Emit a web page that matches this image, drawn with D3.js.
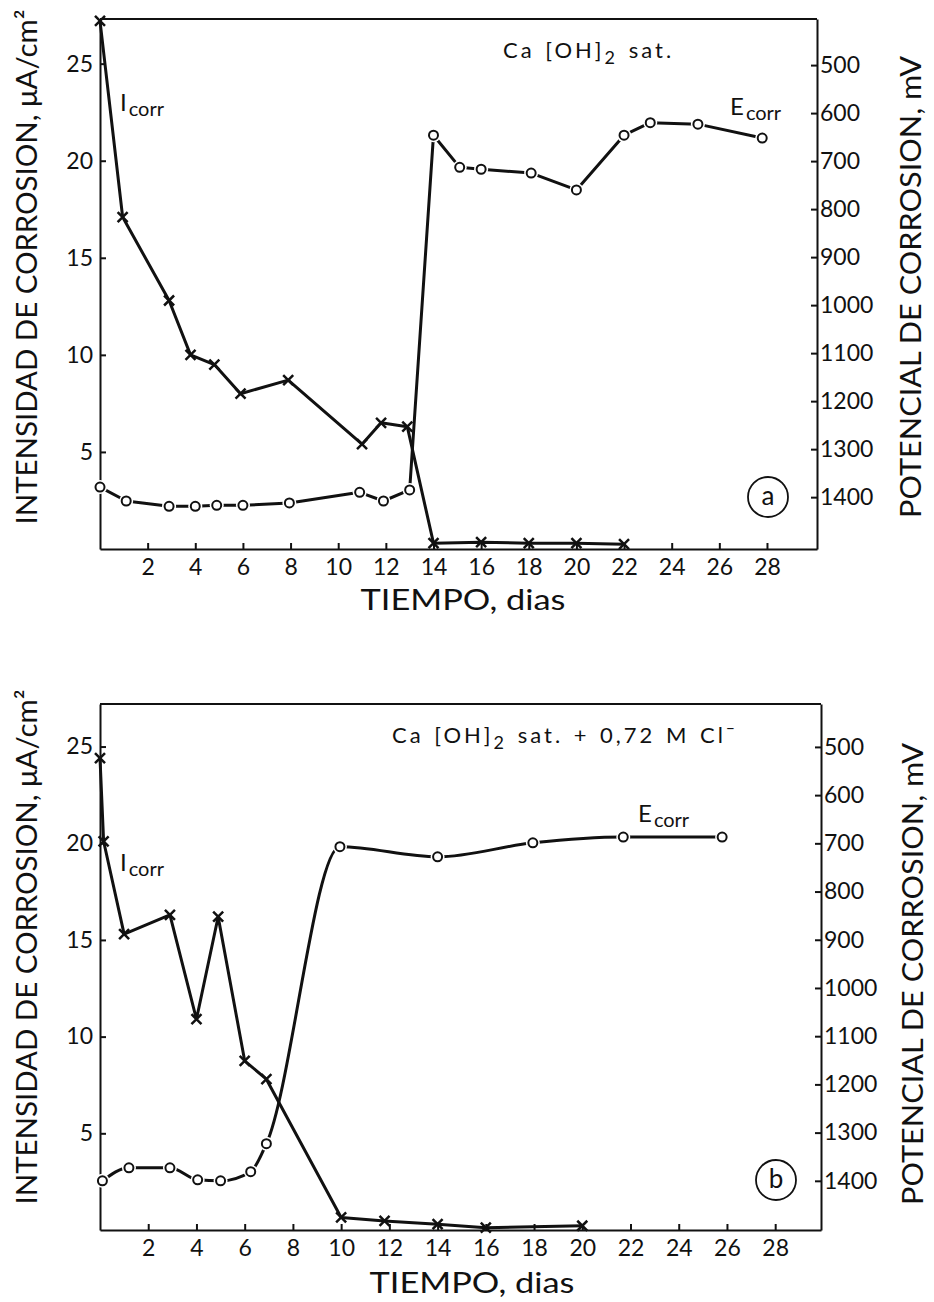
<!DOCTYPE html>
<html>
<head>
<meta charset="utf-8">
<script src="https://cdn.jsdelivr.net/npm/d3@7"></script>
<style>
  body { margin: 0; background: #fff; }
  svg { display: block; font-family: Lato, "DejaVu Sans", sans-serif; }
  .axis path, .axis line { stroke: #111; stroke-width: 2; }
  .axis text { fill: #111; font-size: 23px; font-family: Lato, "DejaVu Sans", sans-serif; }
</style>
</head>
<body>
<svg id="chart" width="934" height="1302"></svg>
<script>
// --- data ---
const xTicks = [2, 4, 6, 8, 10, 12, 14, 16, 18, 20, 22, 24, 26, 28];
const leftTicks = [5, 10, 15, 20, 25];
const rightTicks = [500, 600, 700, 800, 900, 1000, 1100, 1200, 1300, 1400];

// panel a : Ca(OH)2 sat.
const aIcorrDays = [0, 0.95, 2.9, 3.8, 4.8, 5.9, 7.9, 11.0, 11.8, 12.9, 14, 16, 18, 20, 22];
const aIcorr = [27.2, 17.1, 12.8, 10.0, 9.5, 8.0, 8.7, 5.4, 6.5, 6.3, 0.3, 0.35, 0.3, 0.3, 0.25];
const aEcorrDays = [0, 1.1, 2.9, 4.0, 4.9, 6.0, 7.95, 10.9, 11.9, 13.0, 14.0, 15.1, 16.0, 18.1, 20.0, 22.0, 23.1, 25.1, 27.8];
const aEcorr = [1379, 1408, 1419, 1419, 1417, 1417, 1412, 1390, 1408, 1385, 646, 713, 717, 725, 760, 646, 620, 623, 652];

// panel b : Ca(OH)2 sat. + 0,72 M Cl-
const bIcorrDays = [0, 0.15, 1.0, 2.9, 4.0, 4.9, 6.0, 6.9, 10.0, 11.8, 14.0, 16, 20];
const bIcorr = [24.4, 20.1, 15.3, 16.3, 10.9, 16.2, 8.75, 7.8, 0.65, 0.47, 0.3, 0.12, 0.22];
const bEcorrDays = [0.1, 1.2, 2.9, 4.05, 5.0, 6.25, 6.9, 9.95, 14.0, 17.95, 21.7, 25.8];
const bEcorr = [1400, 1373, 1373, 1398, 1400, 1381, 1323, 707, 728, 699, 687, 687];

const zip = (xs, ys) => xs.map((d, i) => ({ x: d, y: ys[i] }));

const svg = d3.select('#chart');

const panels = [
  {
    left: 100, right: 817, top: 19, bottom: 549,
    xMax: 30.1, yMax: 27.3, mvDomain: [404, 1508],
    icorr: zip(aIcorrDays, aIcorr), ecorr: zip(aEcorrDays, aEcorr), ecurve: d3.curveLinear,
    title: ['Ca [OH]', '2', ' sat.', ''], titleX: 503, titleY: 58,
    iLabel: [120, 111], eLabel: [730, 115],
    tag: 'a', tagPos: [768, 497],
    leftTitle: [37, 267], rightTitle: [921, 287], xTitle: [463, 610]
  },
  {
    left: 100, right: 821, top: 704, bottom: 1230,
    xMax: 29.9, yMax: 27.2, mvDomain: [411, 1502],
    icorr: zip(bIcorrDays, bIcorr), ecorr: zip(bEcorrDays, bEcorr), ecurve: d3.curveMonotoneX,
    title: ['Ca [OH]', '2', ' sat. + 0,72 M Cl', '−'], titleX: 392, titleY: 743,
    iLabel: [120, 871], eLabel: [638, 822],
    tag: 'b', tagPos: [776, 1180],
    leftTitle: [37, 947], rightTitle: [923, 974], xTitle: [472, 1293]
  }
];

panels.forEach(p => drawPanel(p));

function drawPanel(p) {
  const x = d3.scaleLinear().domain([0, p.xMax]).range([p.left, p.right]);
  const yL = d3.scaleLinear().domain([0, p.yMax]).range([p.bottom, p.top]);
  const yR = d3.scaleLinear().domain(p.mvDomain).range([p.top, p.bottom]);

  const g = svg.append('g');

  // top border
  g.append('line')
    .attr('x1', p.left).attr('x2', p.right)
    .attr('y1', p.top).attr('y2', p.top)
    .attr('stroke', '#111').attr('stroke-width', 2);

  g.append('g')
    .attr('class', 'axis')
    .attr('transform', `translate(0,${p.bottom})`)
    .call(d3.axisBottom(x).tickValues(xTicks).tickFormat(d3.format('d'))
      .tickSizeInner(-6).tickSizeOuter(0).tickPadding(10));

  g.append('g')
    .attr('class', 'axis')
    .attr('transform', `translate(${p.left},0)`)
    .call(d3.axisLeft(yL).tickValues(leftTicks)
      .tickSizeInner(-6).tickSizeOuter(0).tickPadding(7));

  g.append('g')
    .attr('class', 'axis')
    .attr('transform', `translate(${p.right},0)`)
    .call(d3.axisRight(yR).tickValues(rightTicks).tickFormat(d3.format('d'))
      .tickSizeInner(-6).tickSizeOuter(0).tickPadding(3));

  // Icorr line + x markers
  const lineI = d3.line().x(d => x(d.x)).y(d => yL(d.y));
  g.append('path')
    .datum(p.icorr)
    .attr('d', lineI)
    .attr('fill', 'none').attr('stroke', '#111').attr('stroke-width', 3)
    .attr('stroke-linejoin', 'round');

  g.selectAll('.xm')
    .data(p.icorr)
    .enter().append('path')
    .attr('class', 'xm')
    .attr('transform', d => `translate(${x(d.x)},${yL(d.y)})`)
    .attr('d', 'M-5,-5L5,5M5,-5L-5,5')
    .attr('stroke', '#111').attr('stroke-width', 2.5);

  // Ecorr line + open circles
  const lineE = d3.line().x(d => x(d.x)).y(d => yR(d.y)).curve(p.ecurve);
  g.append('path')
    .datum(p.ecorr)
    .attr('d', lineE)
    .attr('fill', 'none').attr('stroke', '#111').attr('stroke-width', 3)
    .attr('stroke-linejoin', 'round');

  g.selectAll('.halo')
    .data(p.ecorr)
    .enter().append('circle')
    .attr('cx', d => x(d.x)).attr('cy', d => yR(d.y))
    .attr('r', 7).attr('fill', '#fff');

  g.selectAll('.om')
    .data(p.ecorr)
    .enter().append('circle')
    .attr('cx', d => x(d.x)).attr('cy', d => yR(d.y))
    .attr('r', 4.5).attr('fill', '#fff')
    .attr('stroke', '#111').attr('stroke-width', 2);

  // series labels
  const sub = (t, pos, big) => {
    const tx = g.append('text').attr('x', pos[0]).attr('y', pos[1])
      .attr('fill', '#111').attr('font-size', 24);
    tx.append('tspan').text(big);
    tx.append('tspan').attr('dx', 2).attr('dy', 5).attr('font-size', 20).text(t);
  };
  sub('corr', p.iLabel, 'I');
  sub('corr', p.eLabel, 'E');

  // condition title
  const tt = g.append('text').attr('x', p.titleX).attr('y', p.titleY)
    .attr('fill', '#111').attr('font-size', 22).attr('letter-spacing', 3)
    .attr('word-spacing', 2);
  tt.append('tspan').text(p.title[0]);
  tt.append('tspan').attr('dy', 6).attr('font-size', 18).text(p.title[1]);
  tt.append('tspan').attr('dy', -6).text(p.title[2]);
  if (p.title[3]) tt.append('tspan').attr('dy', -9).attr('font-size', 15).text(p.title[3]);

  // panel tag
  g.append('circle')
    .attr('cx', p.tagPos[0]).attr('cy', p.tagPos[1]).attr('r', 20)
    .attr('fill', 'none').attr('stroke', '#111').attr('stroke-width', 1.8);
  g.append('text')
    .attr('x', p.tagPos[0]).attr('y', p.tagPos[1] + 8)
    .attr('text-anchor', 'middle').attr('font-size', 26).attr('fill', '#111')
    .text(p.tag);

  // axis titles
  g.append('text')
    .attr('transform', `translate(${p.leftTitle[0]},${p.leftTitle[1]}) rotate(-90)`)
    .attr('text-anchor', 'middle').attr('font-size', 28).attr('fill', '#111')
    .attr('textLength', 515).attr('lengthAdjust', 'spacingAndGlyphs')
    .text('INTENSIDAD DE CORROSION, μA/cm²');

  g.append('text')
    .attr('transform', `translate(${p.rightTitle[0]},${p.rightTitle[1]}) rotate(-90)`)
    .attr('text-anchor', 'middle').attr('font-size', 28).attr('fill', '#111')
    .attr('textLength', 462).attr('lengthAdjust', 'spacingAndGlyphs')
    .text('POTENCIAL DE CORROSION, mV');

  g.append('text')
    .attr('x', p.xTitle[0]).attr('y', p.xTitle[1])
    .attr('text-anchor', 'middle').attr('font-size', 29).attr('fill', '#111')
    .attr('textLength', 205).attr('lengthAdjust', 'spacingAndGlyphs')
    .text('TIEMPO, dias');
}
</script>
</body>
</html>
